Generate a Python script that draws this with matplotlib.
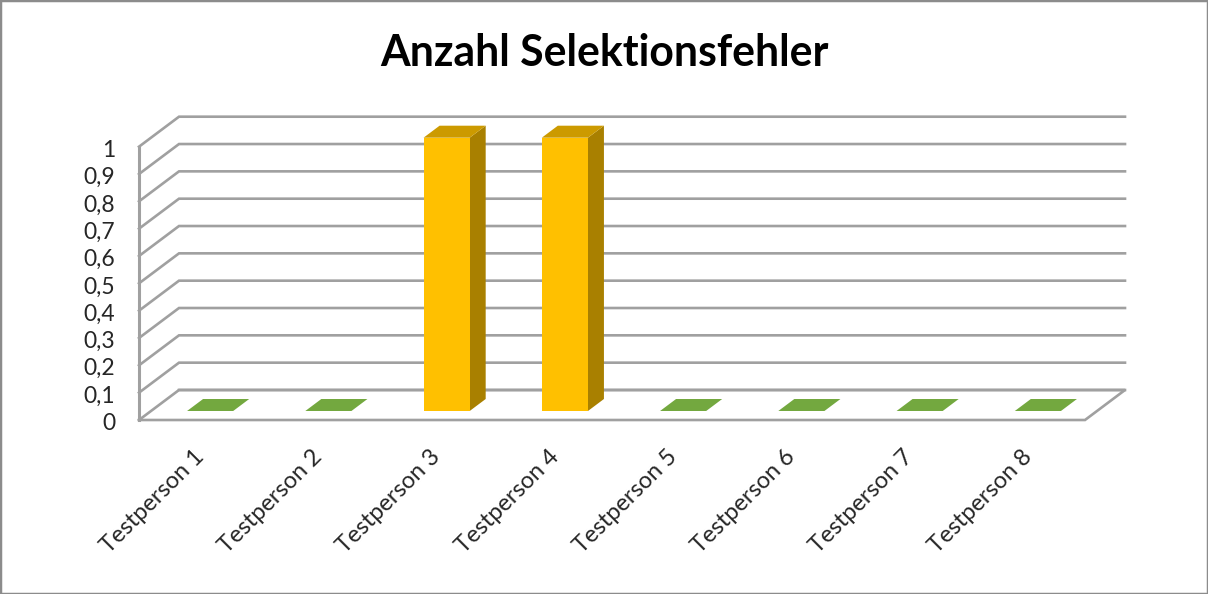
import matplotlib
matplotlib.use("Agg")
import matplotlib.pyplot as plt
from matplotlib.patches import Polygon, Rectangle
from matplotlib.transforms import ScaledTranslation

# chart data
categories = ["Testperson 1", "Testperson 2", "Testperson 3", "Testperson 4",
              "Testperson 5", "Testperson 6", "Testperson 7", "Testperson 8"]
values = [0, 0, 1, 1, 0, 0, 0, 0]
y_ticks = [0, 0.1, 0.2, 0.3, 0.4, 0.5, 0.6, 0.7, 0.8, 0.9, 1]
y_labels = ["0", "0,1", "0,2", "0,3", "0,4", "0,5", "0,6", "0,7", "0,8", "0,9", "1"]
title = "Anzahl Selektionsfehler"

plt.rcParams["font.family"] = ["Lato", "DejaVu Sans"]

W, H = 1208, 594
fig = plt.figure(figsize=(W / 100, H / 100), dpi=100, facecolor="white")
ax = fig.add_axes([139 / W, (H - 420) / H, (1085 - 139) / W, (420 - 146.7) / H])
ax.set_xlim(0, len(categories))
ax.set_ylim(0, 1)
ax.patch.set_visible(False)
for s in ax.spines.values():
    s.set_visible(False)

# oblique depth: how far the back wall is shifted, in data units
depth_x = 40 / ((1085 - 139) / len(categories))
depth_y = 30 / (420 - 146.7)
grid_col = "#a0a0a0"


def pt(x, y, z):
    return (x + z * depth_x, y + z * depth_y)


def line(points, lw=1.9, zorder=1):
    xs = [p[0] for p in points]
    ys = [p[1] for p in points]
    ax.plot(xs, ys, color=grid_col, lw=lw, clip_on=False, zorder=zorder,
            solid_joinstyle="miter")


def face(points, col, zorder):
    ax.add_patch(Polygon(points, closed=True, fc=col, ec="none", clip_on=False, zorder=zorder))


# walls
n = len(categories)
for t in y_ticks:
    line([pt(0, t, 0), pt(0, t, 1), pt(n, t, 1)])
line([pt(0, 0, 0), pt(0, 1, 0)], lw=2.2)
line([pt(0, 0, 0), pt(n, 0, 0), pt(n, 0, 1), pt(0, 0, 1)], lw=1.9)

# bars
bar_w = 0.39
z0, z1 = 0.3, 0.7
for i, v in enumerate(values):
    a = i + 0.5 - bar_w / 2
    b = i + 0.5 + bar_w / 2
    if v == 0:
        face([pt(a, 0, z0), pt(b, 0, z0), pt(b, 0, z1), pt(a, 0, z1)], "#73a83f", 3)
    else:
        face([pt(b, 0, z0), pt(b, v, z0), pt(b, v, z1), pt(b, 0, z1)], "#a98000", 3)
        face([pt(a, v, z0), pt(b, v, z0), pt(b, v, z1), pt(a, v, z1)], "#cc9a00", 3)
        face([pt(a, 0, z0), pt(b, 0, z0), pt(b, v, z0), pt(a, v, z0)], "#ffc000", 4)

ax.set_yticks(y_ticks)
ax.set_yticklabels(y_labels, fontsize=16.5, color="#262626")
ax.set_xticks([i + 0.5 for i in range(n)])
ax.set_xticklabels(categories, fontsize=17, color="#262626", rotation=45,
                   ha="right", rotation_mode="anchor")
ax.tick_params(axis="both", length=0)
ax.tick_params(axis="y", pad=17)
ax.tick_params(axis="x", pad=19)

# shift the slanted labels a little to the left, the y labels a little down
shift = ScaledTranslation(-5 / 100, 0, fig.dpi_scale_trans)
for lab in ax.get_xticklabels():
    lab.set_transform(lab.get_transform() + shift)
shift_y = ScaledTranslation(0, -1.5 / 100, fig.dpi_scale_trans)
for lab in ax.get_yticklabels():
    lab.set_transform(lab.get_transform() + shift_y)

fig.text(604 / W, (H - 53) / H, title, fontsize=30.8, fontweight="bold", color="black",
         ha="center", va="center")

# outer frame
fig.add_artist(Rectangle((0, 0), 1, 1, transform=fig.transFigure, fc="none", ec="#8c8c8c", lw=2.5))

fig.savefig("out.png", dpi=100)
